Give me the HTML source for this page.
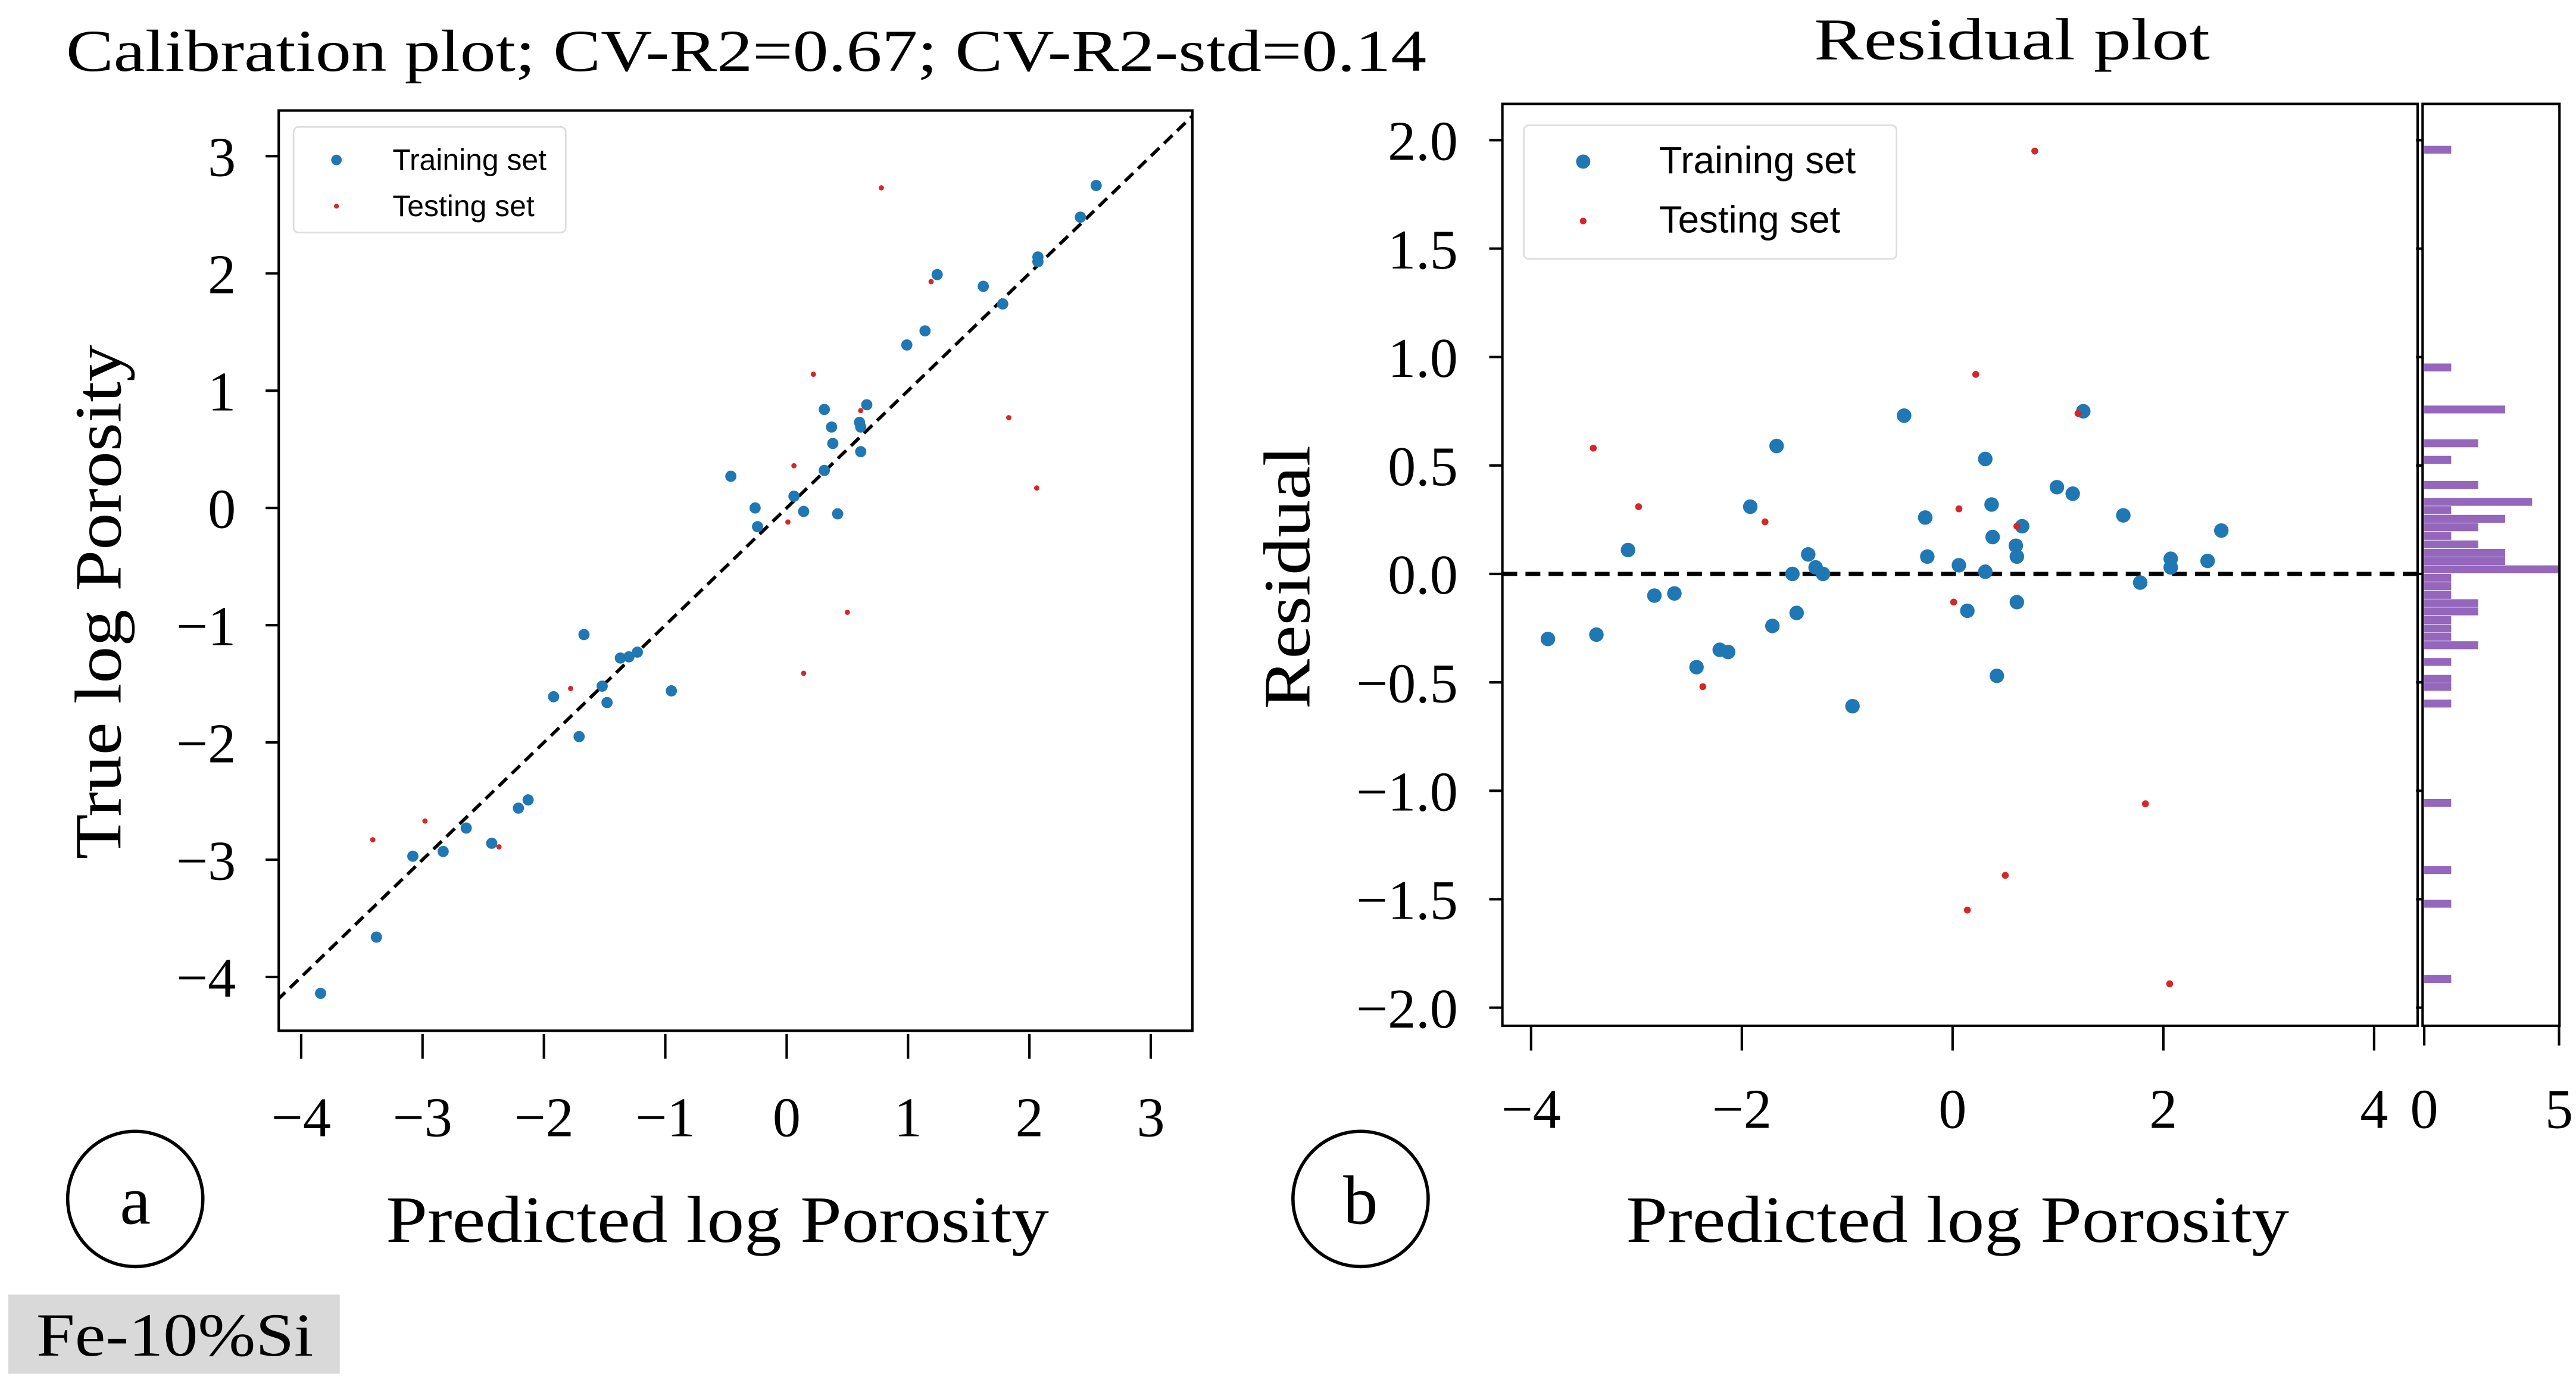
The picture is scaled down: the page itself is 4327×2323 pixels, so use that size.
<!DOCTYPE html>
<html><head><meta charset="utf-8"><style>
html,body{margin:0;padding:0;background:#fff;}
svg{display:block;}
.serif{font-family:"Liberation Serif",serif;fill:#000;}
.sans{font-family:"Liberation Sans",sans-serif;fill:#000;}
</style></head><body>
<svg id="fig" width="4327" height="2323" viewBox="0 0 1562 838.6" xmlns="http://www.w3.org/2000/svg">
<text class="serif" x="40" y="43" font-size="36" textLength="825" lengthAdjust="spacingAndGlyphs">Calibration plot; CV-R2=0.67; CV-R2-std=0.14</text>
<text class="serif" x="1100" y="36" font-size="36" textLength="240" lengthAdjust="spacingAndGlyphs">Residual plot</text>
<g id="left"></g>
<g id="right"></g>
<g id="hist"></g>
<text class="serif" x="0" y="0" font-size="40" text-anchor="middle" textLength="312" lengthAdjust="spacingAndGlyphs" transform="translate(73,365) rotate(-90)">True log Porosity</text>
<text class="serif" x="234" y="753" font-size="40" textLength="402" lengthAdjust="spacingAndGlyphs">Predicted log Porosity</text>
<text class="serif" x="0" y="0" font-size="40" text-anchor="middle" textLength="160" lengthAdjust="spacingAndGlyphs" transform="translate(794,350) rotate(-90)">Residual</text>
<text class="serif" x="986" y="753" font-size="40" textLength="402" lengthAdjust="spacingAndGlyphs">Predicted log Porosity</text>
<g><circle cx="82" cy="727" r="41" fill="none" stroke="#000" stroke-width="2"/><text class="serif" x="82" y="742" font-size="42" text-anchor="middle">a</text></g>
<g><circle cx="825" cy="727" r="41" fill="none" stroke="#000" stroke-width="2"/><text class="serif" x="825" y="742" font-size="42" text-anchor="middle">b</text></g>
<g><rect x="5" y="785" width="201" height="48" fill="#d9d9d9"/><text class="serif" x="22" y="822" font-size="37" textLength="168" lengthAdjust="spacingAndGlyphs">Fe-10%Si</text></g>
</svg>
<script>
// training set: predicted and true
const trainPred=[-3.84,-3.38,-3.08,-2.83,-2.64,-2.43,-2.21,-2.13,-1.92,-1.71,-1.67,-1.52,-1.48,-1.37,-1.30,-1.23,-0.95,-0.46,-0.26,-0.24,0.06,0.14,0.31,0.31,0.37,0.38,0.42,0.60,0.61,0.61,0.66,0.99,1.14,1.24,1.62,1.78,2.07,2.07,2.42,2.55];
const trainTrue=[-4.14,-3.66,-2.97,-2.93,-2.73,-2.86,-2.56,-2.49,-1.61,-1.95,-1.08,-1.52,-1.66,-1.28,-1.27,-1.23,-1.56,0.27,0.00,-0.16,0.10,-0.03,0.84,0.32,0.69,0.55,-0.05,0.73,0.69,0.48,0.88,1.39,1.51,1.99,1.89,1.74,2.14,2.10,2.48,2.75];
const testPred=[-3.41,-2.98,-2.37,-1.78,0.01,0.06,0.22,0.14,0.50,0.61,0.78,1.19,1.83,2.06];
const testTrue=[-2.83,-2.67,-2.89,-1.54,-0.12,0.36,1.14,-1.41,-0.89,0.83,2.73,1.93,0.77,0.17];
// histogram: bin center residual and count
const histBins=[1.955,0.951,0.757,0.601,0.525,0.409,0.331,0.293,0.253,0.214,0.174,0.135,0.096,0.058,0.020,-0.019,-0.058,-0.098,-0.136,-0.174,-0.214,-0.253,-0.291,-0.330,-0.407,-0.485,-0.522,-0.599,-1.057,-1.367,-1.522,-1.869];
const histCounts=[1,1,3,2,1,2,4,1,3,2,1,2,3,3,5,1,1,1,2,2,1,1,1,2,1,1,1,1,1,1,1,1];
const binWidth=0.0387;
const leftXTicks=[-4,-3,-2,-1,0,1,2,3];
const leftYTicks=[3,2,1,0,-1,-2,-3,-4];
const rightXTicks=[-4,-2,0,2,4];
const rightYTicks=[2.0,1.5,1.0,0.5,0.0,-0.5,-1.0,-1.5,-2.0];
const histTicks=[0,5];

const NS="http://www.w3.org/2000/svg";
function mk(parent,tag,attrs,txt){const e=document.createElementNS(NS,tag);for(const k in attrs)e.setAttribute(k,attrs[k]);if(txt!==undefined)e.textContent=txt;parent.appendChild(e);return e;}
function fmt(v,d){let s=v.toFixed(d);return s.replace('-','\u2212');}

// Left plot
const L=document.getElementById('left');
const lx=v=>477+73.6*v, ly=v=>308-71.1*v;
const LB={x0:169,x1:723,y0:67,y1:625};
let cp=mk(L,'clipPath',{id:'clipL'});mk(cp,'rect',{x:LB.x0,y:LB.y0,width:LB.x1-LB.x0,height:LB.y1-LB.y0});
let dl=mk(L,'line',{x1:lx(-4.2),y1:ly(-4.2),x2:lx(3.4),y2:ly(3.4),stroke:'#000','stroke-width':2,'stroke-dasharray':'7,4','clip-path':'url(#clipL)'});


trainPred.forEach((p,i)=>{const c=mk(L,'circle',{cx:lx(p),cy:ly(trainTrue[i]),r:3.4,fill:'#1f77b4'});

});
testPred.forEach((p,i)=>{const c=mk(L,'circle',{cx:lx(p),cy:ly(testTrue[i]),r:1.6,fill:'#d62728'});

});
let fr=mk(L,'rect',{x:LB.x0,y:LB.y0,width:LB.x1-LB.x0,height:LB.y1-LB.y0,fill:'none',stroke:'#000','stroke-width':1.5});


leftXTicks.forEach(v=>{mk(L,'line',{x1:lx(v),y1:LB.y1+2,x2:lx(v),y2:LB.y1+17,stroke:'#000','stroke-width':1.5});
const t=mk(L,'text',{x:lx(v),y:689,'font-size':34,'text-anchor':'middle',class:'serif'},fmt(v,0));

});
leftYTicks.forEach(v=>{mk(L,'line',{x1:LB.x0-8,y1:ly(v),x2:LB.x0,y2:ly(v),stroke:'#000','stroke-width':1.5});
const t=mk(L,'text',{x:143,y:ly(v)+12,'font-size':34,'text-anchor':'end',class:'serif'},fmt(v,0));

});
let lg=mk(L,'g',{});


mk(lg,'rect',{x:178,y:77,width:165,height:64,rx:3,fill:'#fff',stroke:'#ddd','stroke-width':1});
mk(lg,'circle',{cx:204,cy:97,r:3.2,fill:'#1f77b4'});
mk(lg,'circle',{cx:204,cy:125,r:1.5,fill:'#d62728'});
mk(lg,'text',{x:238,y:103,'font-size':18,class:'sans'},'Training set');
mk(lg,'text',{x:238,y:131,'font-size':18,class:'sans'},'Testing set');

// Right plot
const R=document.getElementById('right');
const rx=v=>1184+63.9*v, ry=v=>348-131.5*v;
const RB={x0:911,x1:1466,y0:63,y1:622};
mk(R,'line',{x1:RB.x0,y1:ry(0),x2:RB.x1,y2:ry(0),stroke:'#000','stroke-width':2.5,'stroke-dasharray':'9,5'});
trainPred.forEach((p,i)=>{const c=mk(R,'circle',{cx:rx(p),cy:ry(trainTrue[i]-p),r:4.4,fill:'#1f77b4'});

});
testPred.forEach((p,i)=>{const c=mk(R,'circle',{cx:rx(p),cy:ry(testTrue[i]-p),r:2.1,fill:'#d62728'});

});
let fr2=mk(R,'rect',{x:RB.x0,y:RB.y0,width:RB.x1-RB.x0,height:RB.y1-RB.y0,fill:'none',stroke:'#000','stroke-width':1.5});


rightXTicks.forEach(v=>{mk(R,'line',{x1:rx(v),y1:RB.y1,x2:rx(v),y2:RB.y1+15,stroke:'#000','stroke-width':1.5});
const t=mk(R,'text',{x:rx(v),y:684,'font-size':34,'text-anchor':'middle',class:'serif'},fmt(v,0));

});
rightYTicks.forEach(v=>{mk(R,'line',{x1:RB.x0-8,y1:ry(v),x2:RB.x0,y2:ry(v),stroke:'#000','stroke-width':1.5});
const t=mk(R,'text',{x:884,y:ry(v)+12,'font-size':34,'text-anchor':'end',class:'serif'},fmt(v,1));

});
let lg2=mk(R,'g',{});


mk(lg2,'rect',{x:924,y:76,width:226,height:81,rx:3,fill:'#fff',stroke:'#ddd','stroke-width':1});
mk(lg2,'circle',{cx:960,cy:98,r:4.3,fill:'#1f77b4'});
mk(lg2,'circle',{cx:960,cy:134,r:2,fill:'#d62728'});
mk(lg2,'text',{x:1006,y:105,'font-size':23,class:'sans'},'Training set');
mk(lg2,'text',{x:1006,y:141,'font-size':23,class:'sans'},'Testing set');

// Histogram
const H=document.getElementById('hist');
const hx=c=>1470+16.35*c;
histBins.forEach((b,i)=>{const r=mk(H,'rect',{x:hx(0),y:ry(b+binWidth/2),width:hx(histCounts[i])-hx(0),height:(131.5*binWidth)-0.3,fill:'#9467bd'});

});
let fr3=mk(H,'rect',{x:1469,y:RB.y0,width:83,height:RB.y1-RB.y0,fill:'none',stroke:'#000','stroke-width':1.5});


rightYTicks.forEach(v=>{mk(H,'line',{x1:1465,y1:ry(v),x2:1469,y2:ry(v),stroke:'#000','stroke-width':1.5});});
histTicks.forEach(v=>{mk(H,'line',{x1:hx(v),y1:RB.y1,x2:hx(v),y2:RB.y1+12,stroke:'#000','stroke-width':1.5});
const t=mk(H,'text',{x:hx(v),y:684,'font-size':34,'text-anchor':'middle',class:'serif'},String(v));

});
</script>
</body></html>
